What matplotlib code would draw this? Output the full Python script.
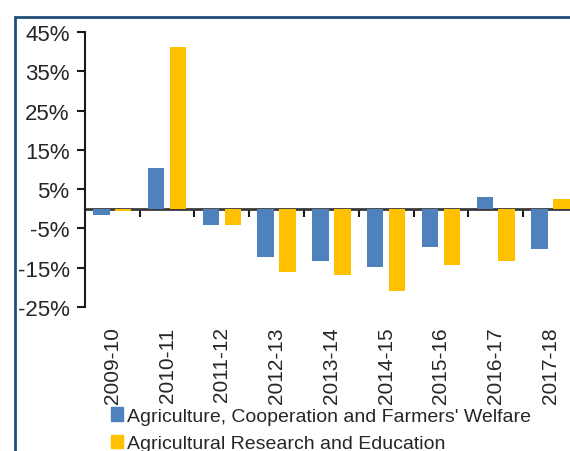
import matplotlib
matplotlib.use('Agg')
import matplotlib.pyplot as plt
from matplotlib.patches import Patch, Rectangle

plt.rcParams['font.family'] = ['Liberation Sans', 'DejaVu Sans']

# growth in allocation, % change over previous year
years = ['2009-10', '2010-11', '2011-12', '2012-13', '2013-14',
         '2014-15', '2015-16', '2016-17', '2017-18']
agri_coop = [-1.7, 10.4, -4.2, -12.3, -13.4, -14.9, -9.8, 2.9, -10.4]
agri_research = [-0.6, 41.1, -4.2, -16.1, -17.0, -21.0, -14.4, -13.4, 2.4]
y_ticks = [45, 35, 25, 15, 5, -5, -15, -25]
series_names = ["Agriculture, Cooperation and Farmers' Welfare",
                "Agricultural Research and Education"]

BLUE = '#4F81BD'
YELLOW = '#FFC000'
TEXT = '#262626'
YMIN, YMAX = -25, 45

fig = plt.figure(figsize=(5.7, 4.52), dpi=100)
# axes run off the right edge of the picture, as in the cropped original
ax = fig.add_axes([0.149, 0.319, 0.961, 0.608])

x = list(range(len(years)))
w = 0.3
ax.bar([i - 0.2 for i in x], agri_coop, width=w, color=BLUE, zorder=2)
ax.bar([i + 0.2 for i in x], agri_research, width=w, color=YELLOW, zorder=2)

ax.set_xlim(-0.5, len(years) + 0.5)
ax.set_ylim(YMIN, YMAX)
ax.set_yticks(y_ticks)
ax.set_yticklabels([f'{v}%' for v in y_ticks])

for s in ['top', 'right', 'bottom']:
    ax.spines[s].set_visible(False)
ax.spines['left'].set_color('#1a1a1a')
ax.spines['left'].set_linewidth(1.5)
ax.tick_params(axis='y', direction='out', length=6, width=1.5, color='#1a1a1a',
               labelsize=16, labelcolor=TEXT, pad=5)

# year labels at the bottom
ax.set_xticks(x)
ax.set_xticklabels(years, rotation=90, fontsize=15, color=TEXT)
ax.tick_params(axis='x', length=0, pad=14)

# zero line with ticks between categories
zero = ax.secondary_xaxis((0 - YMIN) / (YMAX - YMIN))
zero.set_xticks([i + 0.5 for i in x])
zero.set_xticklabels([])
zero.spines['bottom'].set_color('#3a3a3a')
zero.spines['bottom'].set_linewidth(2)
zero.tick_params(axis='x', direction='out', length=6, width=1.5, color='#1a1a1a')

handles = [Patch(color=BLUE), Patch(color=YELLOW)]
fig.legend(handles, series_names, loc='upper left', bbox_to_anchor=(0.195, 0.097),
           frameon=False, fontsize=14, handlelength=0.62, handleheight=0.72,
           handletextpad=0.2, labelspacing=0.5, borderpad=0, borderaxespad=0,
           labelcolor=TEXT)

# dark blue frame around the chart, cut off at right and bottom
fig.patches.append(Rectangle((15 / 570, -0.1), 1.2, 1 - 18 / 452 + 0.1,
                             transform=fig.transFigure, fill=False,
                             edgecolor='#1F4E79', linewidth=2))

fig.savefig('out.png', dpi=100)
